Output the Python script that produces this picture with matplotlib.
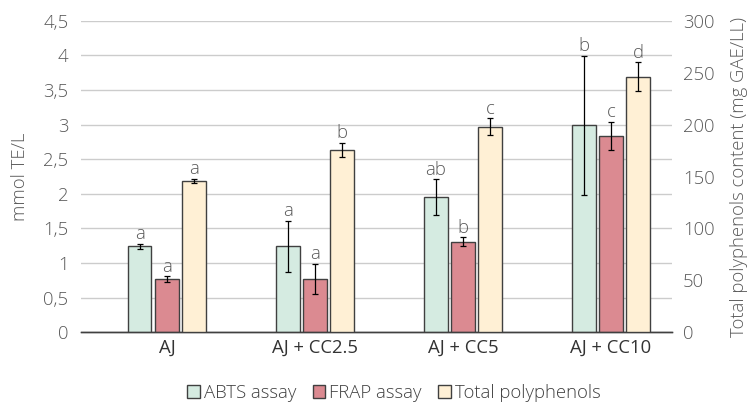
import matplotlib
matplotlib.use("Agg")
import matplotlib.pyplot as plt
from matplotlib.patches import Patch
import numpy as np

plt.rcParams['font.family'] = ['Open Sans', 'DejaVu Sans']
plt.rcParams['font.weight'] = 'light'
plt.rcParams['axes.labelweight'] = 'light'

categories = ["AJ", "AJ + CC2.5", "AJ + CC5", "AJ + CC10"]
abts = [1.24, 1.24, 1.95, 2.99]
abts_err = [0.04, 0.37, 0.26, 1.0]
abts_letters = ["a", "a", "ab", "b"]
frap = [0.77, 0.77, 1.31, 2.84]
frap_err = [0.04, 0.22, 0.06, 0.2]
frap_letters = ["a", "a", "b", "c"]
tp = [145.5, 175.5, 198.0, 246.0]
tp_err = [2.0, 6.7, 8.0, 14.0]
tp_letters = ["a", "b", "c", "d"]
left_ticks = [0, 0.5, 1, 1.5, 2, 2.5, 3, 3.5, 4, 4.5]
left_tick_labels = ["0", "0,5", "1", "1,5", "2", "2,5", "3", "3,5", "4", "4,5"]
right_ticks = [0, 50, 100, 150, 200, 250, 300]

c_abts = "#d5ebe1"
c_frap = "#db8a91"
c_tp = "#fff0d5"
edge = "#404040"
txt = "#595959"
fs = 13.3

fig = plt.figure(figsize=(7.53, 4.03), dpi=100)
ax = fig.add_axes([0.1076, 0.1754, 0.7844, 0.7732])
ax2 = ax.twinx()

x = np.arange(len(categories))
w = 0.158
off = 0.183

ekw = dict(ecolor="black", elinewidth=0.9, capsize=2.2, capthick=0.9)
ax.bar(x - off, abts, w, color=c_abts, edgecolor=edge, linewidth=1.0, zorder=3)
ax.errorbar(x - off, abts, yerr=abts_err, fmt="none", zorder=4, **ekw)
ax.bar(x, frap, w, color=c_frap, edgecolor=edge, linewidth=1.0, zorder=3)
ax.errorbar(x, frap, yerr=frap_err, fmt="none", zorder=4, **ekw)
ax2.bar(x + off, tp, w, color=c_tp, edgecolor=edge, linewidth=1.0, zorder=3)
ax2.errorbar(x + off, tp, yerr=tp_err, fmt="none", zorder=4, **ekw)

for xi, v, e, l in zip(x - off, abts, abts_err, abts_letters):
    ax.annotate(l, (xi, v + e), xytext=(0, 0.5), textcoords="offset points",
                ha="center", va="bottom", fontsize=fs, color=txt)
for xi, v, e, l in zip(x, frap, frap_err, frap_letters):
    ax.annotate(l, (xi, v + e), xytext=(0, 0.5), textcoords="offset points",
                ha="center", va="bottom", fontsize=fs, color=txt)
for xi, v, e, l in zip(x + off, tp, tp_err, tp_letters):
    ax2.annotate(l, (xi, v + e), xytext=(0, 0.5), textcoords="offset points",
                 ha="center", va="bottom", fontsize=fs, color=txt)

ax.set_xlim(-0.58, 3.41)
ax.set_ylim(0, 4.5)
ax2.set_ylim(0, 300)
ax.set_yticks(left_ticks)
ax.set_yticklabels(left_tick_labels)
ax2.set_yticks(right_ticks)
ax.set_xticks(x)
ax.set_xticklabels(categories, fontweight="normal")

ax.grid(axis="y", color="#cccccc", linewidth=1.0, zorder=0)
ax.set_axisbelow(True)
for a in (ax, ax2):
    for s in ("top", "left", "right"):
        a.spines[s].set_visible(False)
    a.spines["bottom"].set_color("#404040")
    a.spines["bottom"].set_linewidth(1.0)
ax.tick_params(axis="y", length=0, pad=9, labelsize=fs, labelcolor=txt)
ax2.tick_params(axis="y", length=0, pad=8, labelsize=fs, labelcolor=txt)
ax.tick_params(axis="x", length=0, pad=5, labelsize=fs, labelcolor="#333333")

ax.set_ylabel("mmol TE/L", fontsize=fs, color=txt, labelpad=10, fontweight="light")
ax2.set_ylabel("Total polyphenols content (mg GAE/LL)", fontsize=fs, color=txt,
               labelpad=11, fontweight="light")

handles = [Patch(facecolor=c_abts, edgecolor=edge, linewidth=1.0, label="ABTS assay"),
           Patch(facecolor=c_frap, edgecolor=edge, linewidth=1.0, label="FRAP assay"),
           Patch(facecolor=c_tp, edgecolor=edge, linewidth=1.0, label="Total polyphenols")]
leg = fig.legend(handles=handles, loc="center", bbox_to_anchor=(0.523, 0.025), ncol=3,
                 frameon=False, fontsize=fs, handlelength=0.7, handleheight=0.7,
                 handletextpad=0.2, columnspacing=0.9, labelcolor="#404040")

fig.savefig("out.png", dpi=100)
